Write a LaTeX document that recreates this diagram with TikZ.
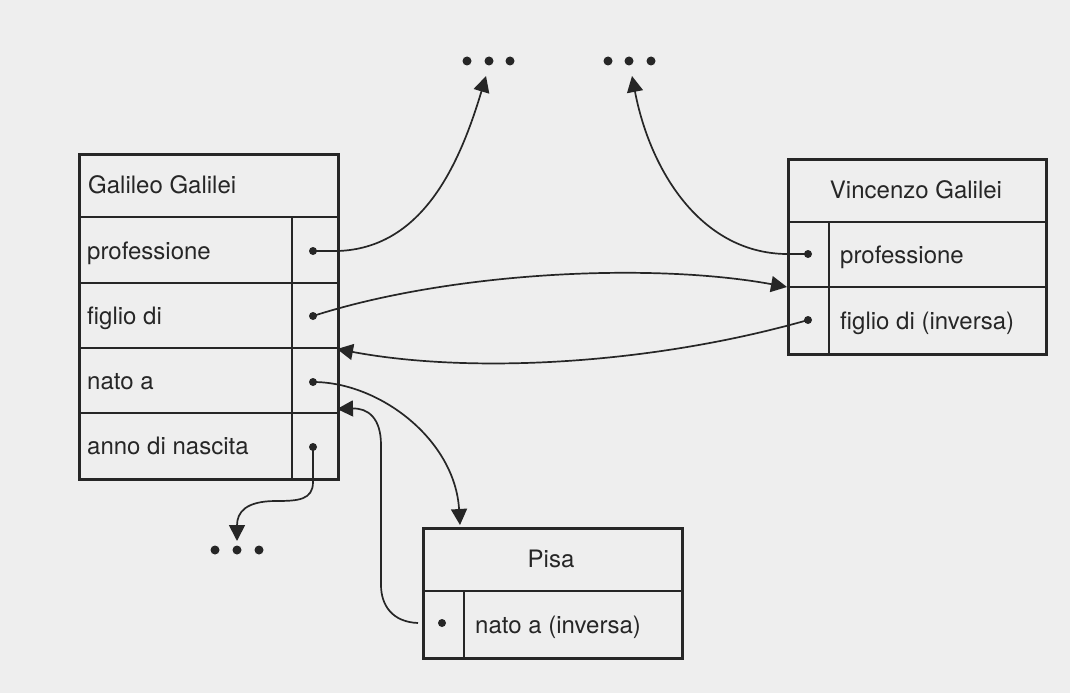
\documentclass[tikz,border=0pt]{standalone}
\usepackage{fontspec}
\setmainfont{TeX Gyre Heros}
\usetikzlibrary{arrows.meta}
\definecolor{ink}{HTML}{262626}
\definecolor{paper}{HTML}{EEEEEE}
\begin{document}
\begin{tikzpicture}[x=1pt,y=-1pt,
  frame/.style={draw=ink,line width=2.9pt,inner sep=0pt,anchor=north west},
  rule/.style={draw=ink,line width=1.6pt},
  lbl/.style={anchor=base west,inner sep=0pt,text=ink,font=\fontsize{24}{28}\selectfont},
  ttl/.style={anchor=base,inner sep=0pt,text=ink,font=\fontsize{24}{28}\selectfont},
  ptr/.style={circle,fill=ink,inner sep=0pt,minimum size=8pt},
  more/.style={circle,fill=ink,inner sep=0pt,minimum size=9pt},
  link/.style={draw=ink,line width=1.7pt},
  tip/.style={-{Triangle[length=16pt,width=16pt]}}]
\useasboundingbox[fill=paper] (0,0) rectangle (1070,693);

% --- Galileo Galilei ---
\node[frame,minimum width=259pt,minimum height=325pt] (gal) at (78,153) {};
\draw[rule] (78,217) -- (337,217);
\draw[rule] (78,283) -- (337,283);
\draw[rule] (78,348) -- (337,348);
\draw[rule] (78,413) -- (337,413);
\draw[rule] (292,217) -- (292,478);
\node[lbl] (galname) at (88,193) {Galileo Galilei};
\node[lbl] (gprofl) at (87,259) {professione};
\node[lbl] (gfigl) at (87,324) {figlio di};
\node[lbl] (gnatl) at (87,389) {nato a};
\node[lbl] (gannl) at (87,454) {anno di nascita};
\node[ptr] (gprof) at (313,251) {};
\node[ptr] (gfig) at (313,316) {};
\node[ptr] (gnat) at (313,382) {};
\node[ptr] (gann) at (313,447) {};

% --- Vincenzo Galilei ---
\node[frame,minimum width=258pt,minimum height=195pt] (vin) at (787,158) {};
\draw[rule] (787,222) -- (1045,222);
\draw[rule] (787,287) -- (1045,287);
\draw[rule] (829,222) -- (829,353);
\node[ttl] (vinname) at (916,198) {Vincenzo Galilei};
\node[lbl] (vprofl) at (840,263) {professione};
\node[lbl] (vfigl) at (840,329) {figlio di (inversa)};
\node[ptr] (vprof) at (808,254) {};
\node[ptr] (vfig) at (808,320) {};

% --- Pisa ---
\node[frame,minimum width=259pt,minimum height=130pt] (pisa) at (422,527) {};
\draw[rule] (422,591) -- (681,591);
\draw[rule] (464,591) -- (464,657);
\node[ttl] (pisaname) at (551,567) {Pisa};
\node[lbl] (pnatl) at (475,633) {nato a (inversa)};
\node[ptr] (pnat) at (442,623) {};

% --- continuation marks ---
\node[more] (m1a) at (467,61) {};
\node[more] (m1b) at (489,61) {};
\node[more] (m1c) at (510,61) {};
\node[more] (m2a) at (608,61) {};
\node[more] (m2b) at (629,61) {};
\node[more] (m2c) at (651,61) {};
\node[more] (m3a) at (215,550) {};
\node[more] (m3b) at (237,550) {};
\node[more] (m3c) at (259,550) {};

% end points on frame edges
\coordinate (galA) at (337,349);
\coordinate (galB) at (337,409);
\coordinate (vinA) at (787,287);
\coordinate (pisaTop) at (460,525);
\coordinate (pisaOut) at (418,623);
\coordinate (up1) at (486,76);
\coordinate (up2) at (632,76);
\coordinate (down3) at (237,541);

% --- links ---
\draw[link,tip] (gprof.center) -- (338,251) .. controls (420,248) and (458,170) .. (up1);
\draw[link,tip] (vprof.center) -- (785,254) .. controls (700,252) and (650,170) .. (up2);
\draw[link,tip] (gfig.center) .. controls (450,272) and (650,262) .. (vinA);
\draw[link,tip] (vfig.center) .. controls (650,365) and (470,374) .. (galA);
\draw[link,tip] (gnat.center) .. controls (380,382) and (455,440) .. (pisaTop);
\draw[link,tip] (pisaOut) .. controls (392,622) and (381,605) .. (381,585)
  -- (381,445) .. controls (381,418) and (368,408) .. (galB);
\draw[link,tip] (gann.center) -- (313,482) .. controls (313,500) and (298,501) .. (276,501)
  .. controls (246,501) and (237,512) .. (down3);
\end{tikzpicture}
\end{document}
